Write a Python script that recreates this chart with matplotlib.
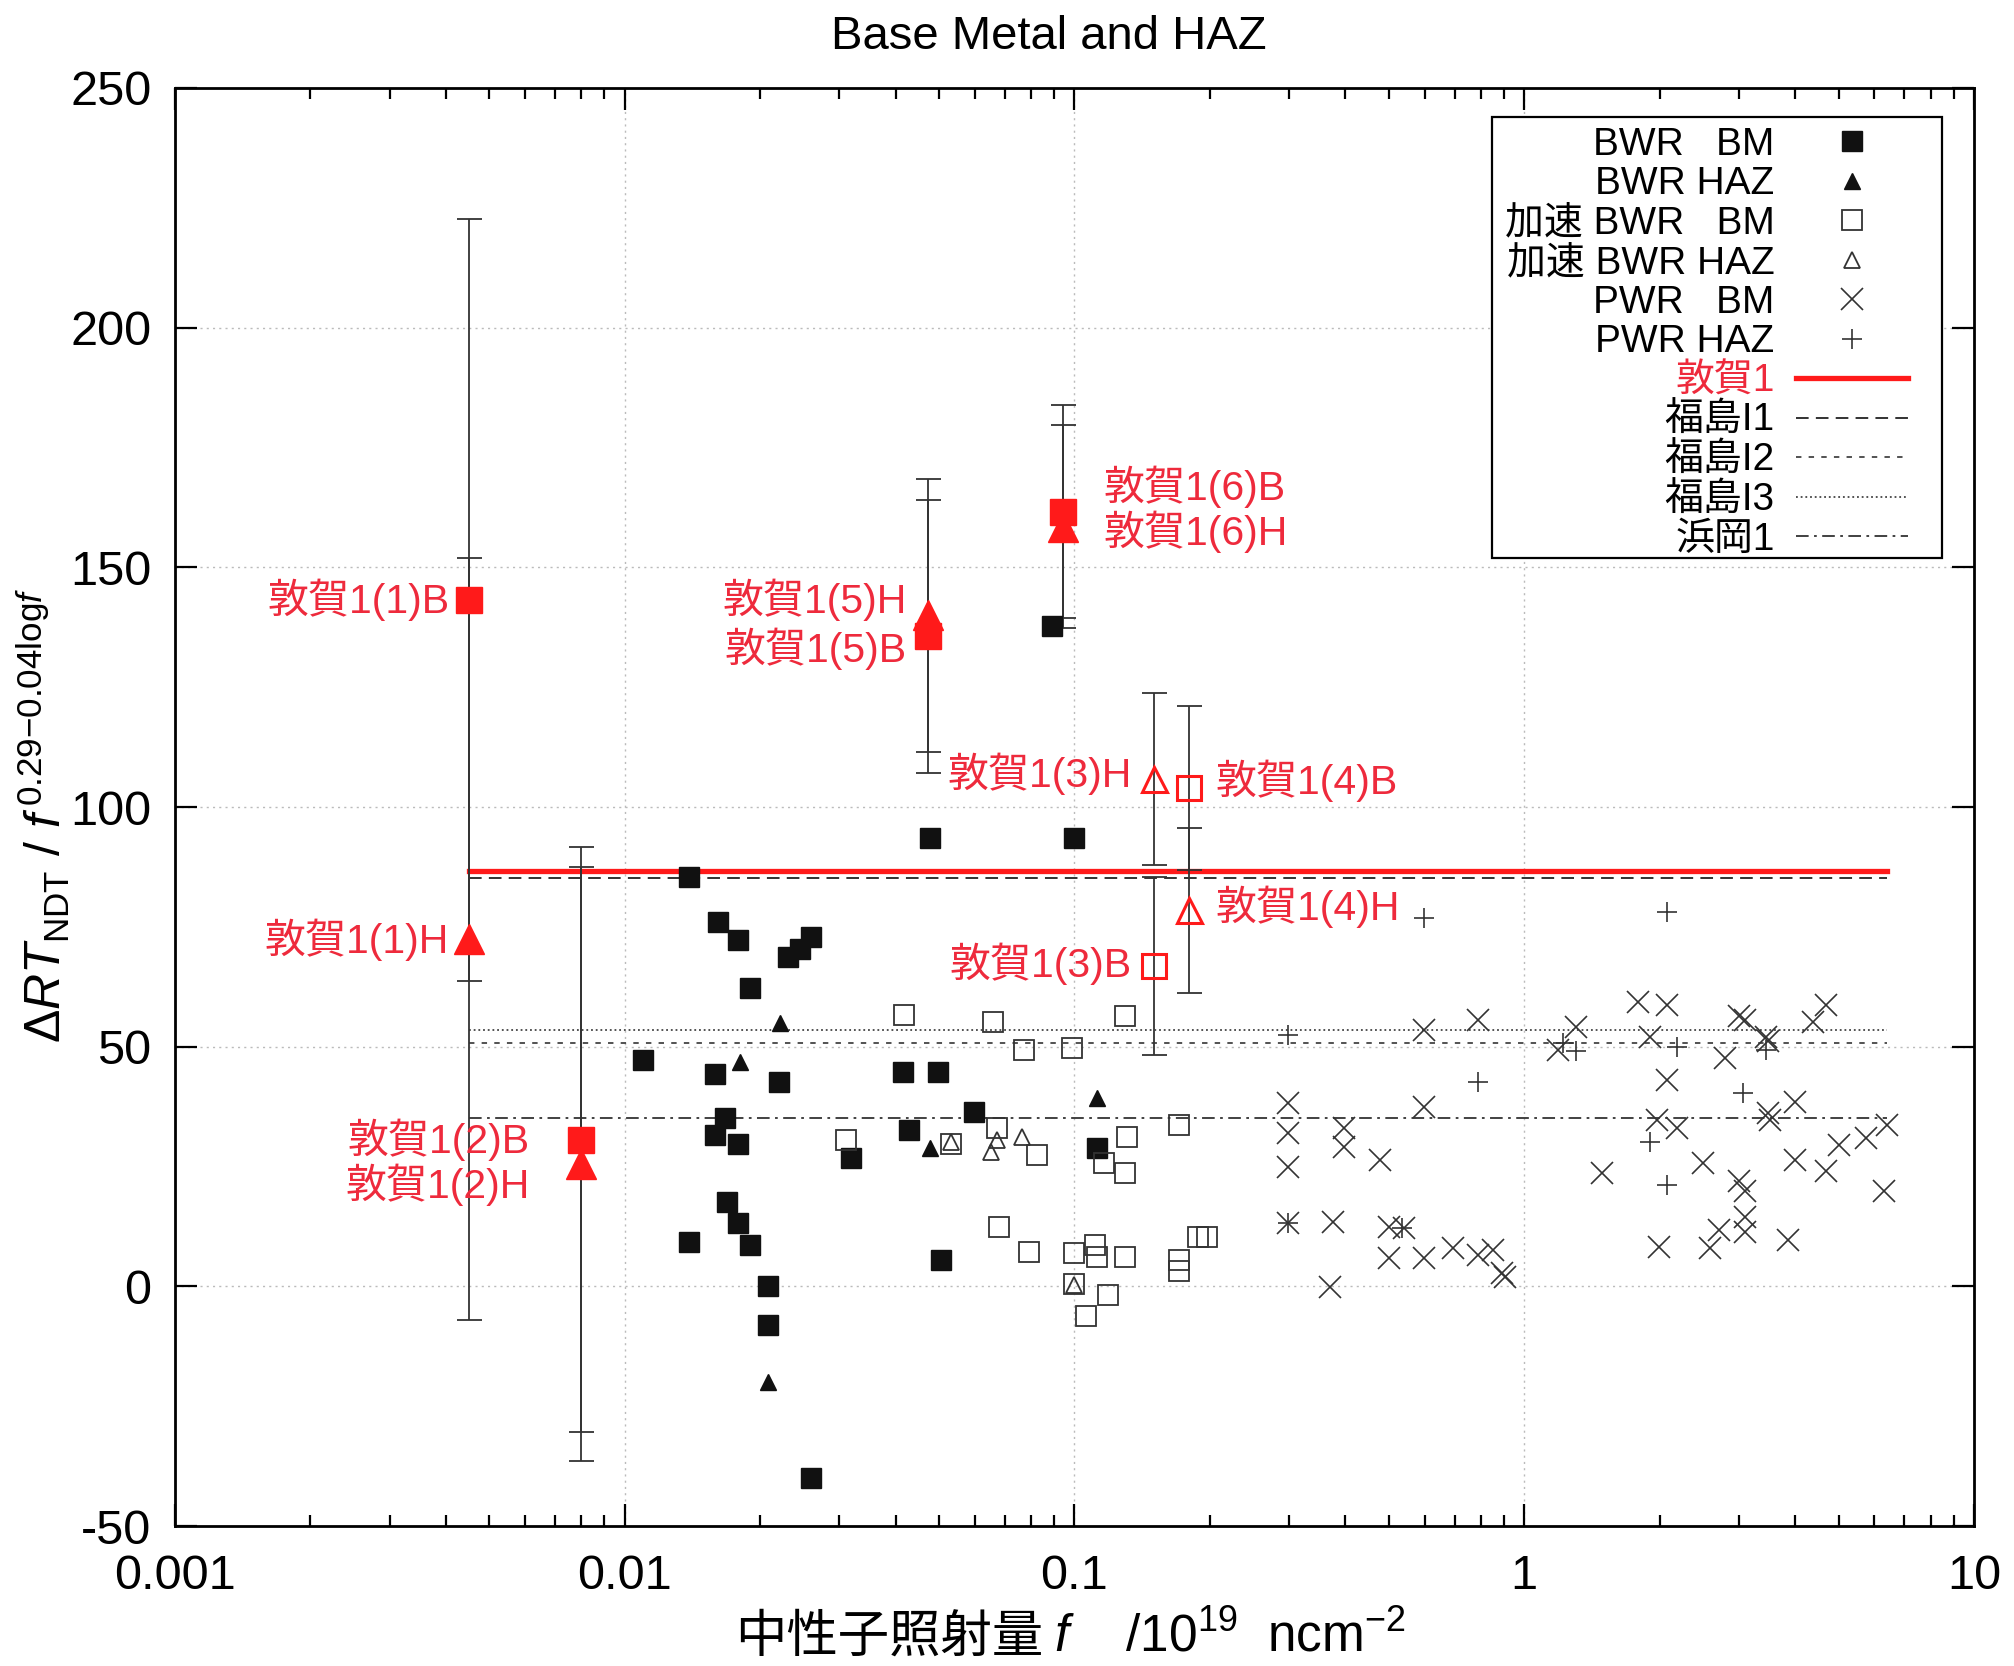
import matplotlib
matplotlib.use('Agg')
import matplotlib.pyplot as plt
from matplotlib.patches import Rectangle
from matplotlib.ticker import FixedLocator, FixedFormatter, LogLocator, NullFormatter

plt.rcParams['font.family'] = ['Liberation Sans', 'Noto Sans CJK JP']
plt.rcParams['mathtext.fontset'] = 'custom'
plt.rcParams['mathtext.rm'] = 'Liberation Sans'
plt.rcParams['mathtext.it'] = 'Liberation Sans:italic'
plt.rcParams['axes.unicode_minus'] = False

# ---- data ----
bwr_bm_f = [0.0139, 0.0161, 0.0179, 0.0190, 0.0231, 0.0245, 0.0260, 0.0477, 0.1000, 0.0890,
            0.0110, 0.0159, 0.0220, 0.0416, 0.0496, 0.0167, 0.0159, 0.0179, 0.0598, 0.0428,
            0.0319, 0.1120, 0.0169, 0.0179, 0.0190, 0.0139, 0.0506, 0.0208, 0.0208, 0.0259]
bwr_bm_v = [85.3, 76.1, 72.3, 62.3, 68.8, 70.4, 72.8, 93.5, 93.5, 137.8,
            47.2, 44.4, 42.7, 44.8, 44.8, 35.1, 31.6, 29.8, 36.4, 32.6,
            26.7, 28.8, 17.7, 13.2, 8.6, 9.3, 5.5, 0.0, -8.0, -40.0]

bwr_haz_f = [0.0180, 0.0221, 0.0208, 0.0477, 0.1120]
bwr_haz_v = [46.9, 54.9, -20.0, 28.8, 39.2]

acc_bm_f = [0.0417, 0.0659, 0.0771, 0.0985, 0.1297, 0.0310, 0.0531, 0.0672, 0.0826, 0.1310,
            0.1163, 0.1297, 0.1705, 0.0679, 0.0794, 0.0995, 0.1109, 0.1120, 0.1297, 0.1705,
            0.1705, 0.1880, 0.1970, 0.1000, 0.1060, 0.1187]
acc_bm_v = [56.6, 55.2, 49.3, 49.7, 56.3, 30.5, 29.8, 33.0, 27.4, 31.2,
            25.7, 23.6, 33.7, 12.4, 7.2, 6.9, 8.6, 6.2, 6.2, 5.5,
            3.3, 10.4, 10.4, 0.5, -6.2, -1.9]

acc_haz_f = [0.0531, 0.0672, 0.0653, 0.0763, 0.1000]
acc_haz_v = [30.2, 30.5, 28.1, 31.2, 0.3]

pwr_bm_f = [1.79, 2.08, 3.00, 3.10, 4.69, 4.38, 0.599, 0.79, 1.30, 1.19,
            1.90, 3.44, 3.48, 2.80, 2.08, 3.99, 3.48, 3.52, 1.97, 2.18,
            0.599, 0.298, 0.298, 0.397, 0.397, 0.477, 0.298, 2.50, 1.49, 4.69,
            3.99, 5.00, 5.76, 6.40, 3.00, 3.10, 6.31, 3.10, 3.10, 2.71,
            2.59, 1.99, 3.86, 0.298, 0.375, 0.499, 0.540, 0.499, 0.599, 0.695,
            0.788, 0.853, 0.890, 0.904, 0.370]
pwr_bm_v = [59.4, 58.7, 56.3, 55.6, 58.7, 55.2, 53.5, 55.6, 54.2, 49.3,
            52.1, 52.1, 51.1, 47.6, 43.1, 38.5, 36.1, 34.7, 34.7, 33.0,
            37.5, 38.2, 31.9, 33.0, 29.1, 26.4, 25.0, 25.7, 23.6, 24.0,
            26.4, 29.5, 30.9, 33.7, 21.9, 20.0, 20.0, 14.5, 11.4, 11.7,
            8.0, 8.3, 9.7, 13.2, 13.5, 12.4, 12.1, 5.9, 5.9, 8.0,
            6.5, 7.6, 2.7, 2.0, -0.1]

pwr_haz_f = [0.599, 2.08, 0.298, 1.22, 1.30, 2.18, 3.44, 0.79, 3.07, 1.90, 2.08, 0.298, 0.534]
pwr_haz_v = [76.8, 78.2, 52.4, 50.7, 49.0, 50.0, 49.3, 42.7, 40.3, 30.2, 21.1, 13.2, 12.1]

# 敦賀1 surveillance results with error bars
tsu_b_f = [0.0045, 0.0080, 0.0472, 0.0945]
tsu_b_v = [143.2, 30.6, 135.6, 161.6]
tsu_b_err = [79.5, 61.0, 28.5, 22.2]
tsu_h_f = [0.0045, 0.0080, 0.0472, 0.0945]
tsu_h_v = [72.4, 25.5, 140.0, 158.5]
tsu_h_err = [79.5, 62.0, 28.5, 21.2]
tsu_acc_b_f = [0.150, 0.180]
tsu_acc_b_v = [66.8, 104.0]
tsu_acc_b_err = [18.5, 17.1]
tsu_acc_h_f = [0.150, 0.180]
tsu_acc_h_v = [105.8, 78.5]
tsu_acc_h_err = [17.9, 17.2]

tsu_b_labels = ['敦賀1(1)B', '敦賀1(2)B', '敦賀1(5)B', '敦賀1(6)B']
tsu_h_labels = ['敦賀1(1)H', '敦賀1(2)H', '敦賀1(5)H', '敦賀1(6)H']
tsu_acc_b_labels = ['敦賀1(3)B', '敦賀1(4)B']
tsu_acc_h_labels = ['敦賀1(3)H', '敦賀1(4)H']

# plant trend lines
line_f = [0.0045, 6.4]
line_names = ['敦賀1', '福島I1', '福島I2', '福島I3', '浜岡1']
line_values = [86.7, 85.1, 50.7, 53.5, 35.2]

x_ticks = [0.001, 0.01, 0.1, 1, 10]
x_tick_labels = ['0.001', '0.01', '0.1', '1', '10']
y_ticks = [-50, 0, 50, 100, 150, 200, 250]
y_tick_labels = ['-50', '0', '50', '100', '150', '200', '250']

RED = '#ff1a1a'
TXT_RED = '#ee2a3c'

fig = plt.figure(figsize=(20.15, 16.66), dpi=100)
ax = fig.add_axes([0.0868, 0.0840, 0.8929, 0.8632])
ax.set_xscale('log')
ax.set_xlim(0.001, 10)
ax.set_ylim(-50, 250)

# grid
for gx in x_ticks[1:-1]:
    ax.axvline(gx, color='#bbbbbb', lw=1.0, ls=(0, (1.5, 3)), zorder=0)
for gy in y_ticks[1:-1]:
    ax.axhline(gy, color='#bbbbbb', lw=1.0, ls=(0, (1.5, 3)), zorder=0)

h1, = ax.plot(bwr_bm_f, bwr_bm_v, ls='none', marker='s', ms=14, color='#111111', mec='#111111', zorder=3)
h2, = ax.plot(bwr_haz_f, bwr_haz_v, ls='none', marker='^', ms=11, color='#111111', zorder=3)
h3, = ax.plot(acc_bm_f, acc_bm_v, ls='none', marker='s', ms=15, mfc='none', mec='#333333', mew=1.3, zorder=3)
h4, = ax.plot(acc_haz_f, acc_haz_v, ls='none', marker='^', ms=12, mfc='none', mec='#333333', mew=1.3, zorder=3)
h5, = ax.plot(pwr_bm_f, pwr_bm_v, ls='none', marker='x', ms=16, mec='#333333', mew=1.2, zorder=3)
h6, = ax.plot(pwr_haz_f, pwr_haz_v, ls='none', marker='+', ms=14, mec='#333333', mew=1.2, zorder=3)

styles = [dict(color=RED, lw=3.8, ls='-'),
          dict(color='#222222', lw=1.3, ls=(0, (7, 4))),
          dict(color='#444444', lw=1.3, ls=(0, (3, 4))),
          dict(color='#444444', lw=1.3, ls=(0, (1, 1.6))),
          dict(color='#333333', lw=1.3, ls=(0, (7, 3, 1.5, 3)))]
line_handles = []
for val, st in zip(line_values, styles):
    h, = ax.plot(line_f, [val, val], zorder=2, **st)
    line_handles.append(h)

# error bars and red points
eb = dict(fmt='none', ecolor='#333333', elinewidth=1.3, capsize=9, capthick=1.3, zorder=2)
ax.errorbar(tsu_b_f, tsu_b_v, yerr=tsu_b_err, **eb)
ax.errorbar(tsu_h_f, tsu_h_v, yerr=tsu_h_err, **eb)
ax.errorbar(tsu_acc_b_f, tsu_acc_b_v, yerr=tsu_acc_b_err, **eb)
ax.errorbar(tsu_acc_h_f, tsu_acc_h_v, yerr=tsu_acc_h_err, **eb)
ax.plot(tsu_b_f, tsu_b_v, ls='none', marker='s', ms=19, color=RED, zorder=4)
ax.plot(tsu_h_f, tsu_h_v, ls='none', marker='^', ms=21, color=RED, zorder=4)
ax.plot(tsu_acc_b_f, tsu_acc_b_v, ls='none', marker='s', ms=17, mfc='none', mec=RED, mew=2.2, zorder=4)
ax.plot(tsu_acc_h_f, tsu_acc_h_v, ls='none', marker='^', ms=18, mfc='none', mec=RED, mew=2.2, zorder=4)

ann = dict(textcoords='offset points', va='center', color=TXT_RED, fontsize=29.5, zorder=5)
b_off = [(-14, 0, 'right'), (-37, 0, 'right'), (-15, -9, 'right'), (29, 18, 'left')]
h_off = [(-14, 0, 'right'), (-37, -15, 'right'), (-15, 11, 'right'), (29, -4, 'left')]
for lab, f, v, (dx, dy, ha) in zip(tsu_b_labels, tsu_b_f, tsu_b_v, b_off):
    ax.annotate(lab, (f, v), xytext=(dx, dy), ha=ha, **ann)
for lab, f, v, (dx, dy, ha) in zip(tsu_h_labels, tsu_h_f, tsu_h_v, h_off):
    ax.annotate(lab, (f, v), xytext=(dx, dy), ha=ha, **ann)
acc_b_off = [(-16, 2, 'right'), (19, 5, 'left')]
acc_h_off = [(-16, 4, 'right'), (19, 2, 'left')]
for lab, f, v, (dx, dy, ha) in zip(tsu_acc_b_labels, tsu_acc_b_f, tsu_acc_b_v, acc_b_off):
    ax.annotate(lab, (f, v), xytext=(dx, dy), ha=ha, **ann)
for lab, f, v, (dx, dy, ha) in zip(tsu_acc_h_labels, tsu_acc_h_f, tsu_acc_h_v, acc_h_off):
    ax.annotate(lab, (f, v), xytext=(dx, dy), ha=ha, **ann)

# axes, ticks
ax.xaxis.set_major_locator(FixedLocator(x_ticks))
ax.xaxis.set_major_formatter(FixedFormatter(x_tick_labels))
ax.xaxis.set_minor_locator(LogLocator(base=10, subs=range(2, 10)))
ax.xaxis.set_minor_formatter(NullFormatter())
ax.yaxis.set_major_locator(FixedLocator(y_ticks))
ax.yaxis.set_major_formatter(FixedFormatter(y_tick_labels))
ax.tick_params(which='both', direction='in', top=True, right=True, labelsize=35, width=1.6)
ax.tick_params(which='major', length=16)
ax.tick_params(which='minor', length=8)
ax.tick_params(axis='x', pad=20)
ax.tick_params(axis='y', pad=17)
for s in ax.spines.values():
    s.set_linewidth(2.0)

ax.set_title('Base Metal and HAZ', fontsize=34, pad=28, x=0.486)

# x label: CJK part as plain text, the rest as mathtext
ax.text(0.4828, -0.087, '中性子照射量', transform=ax.transAxes, ha='right', va='baseline', fontsize=37)
ax.text(0.4885, -0.087, r'$\mathit{f}$    /10$^{19}$  ncm$^{-2}$', transform=ax.transAxes,
        ha='left', va='baseline', fontsize=37)
ax.set_ylabel(r'$\Delta\mathit{RT}_{\mathrm{NDT}}$ / $\mathit{f}^{\,\mathrm{0.29{-}0.04log}\mathit{f}}$', fontsize=36)
ax.yaxis.set_label_coords(-0.057, 0.494)

# legend: frame drawn separately, texts right aligned in front of the symbols
ax.add_patch(Rectangle((0.732, 0.673), 0.250, 0.307, transform=ax.transAxes, facecolor='white',
                       edgecolor='black', lw=1.6, zorder=6))
labels = ['BWR   BM', 'BWR HAZ', '加速 BWR   BM', '加速 BWR HAZ', 'PWR   BM', 'PWR HAZ'] + line_names
leg = ax.legend([h1, h2, h3, h4, h5, h6] + line_handles, labels, loc='upper right',
                bbox_to_anchor=(0.963, 0.973), borderaxespad=0, markerfirst=False,
                fontsize=28, frameon=False, handlelength=2.87, handletextpad=0.55,
                labelspacing=0.09, borderpad=0)
leg.set_zorder(7)
leg.get_texts()[6].set_color(TXT_RED)

fig.savefig('out.png', dpi=100, facecolor='white')
